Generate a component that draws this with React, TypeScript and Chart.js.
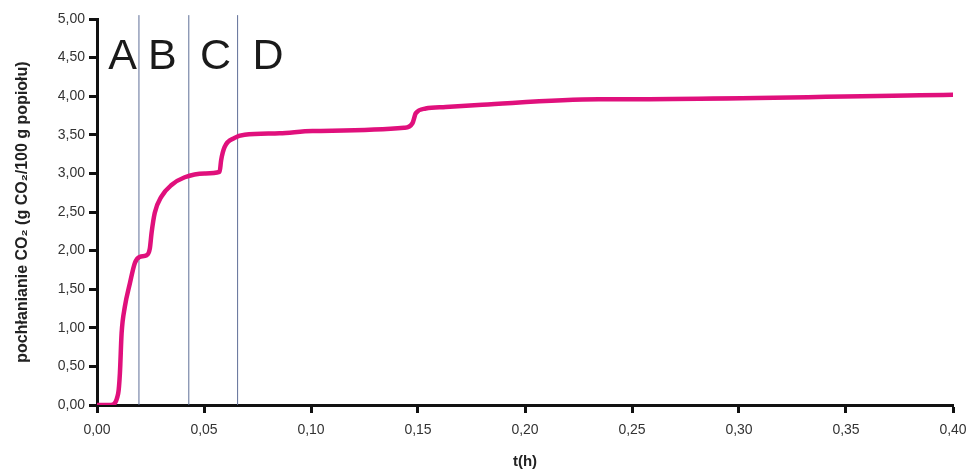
import React, { useEffect, useRef } from "react";
import { Chart, registerables } from "chart.js";

Chart.register(...registerables);

// Data: CO2 uptake curve (t in hours, uptake in g CO2 / 100 g ash)
const timeH = [
  0, 0.0065, 0.0099, 0.0107, 0.0115, 0.013, 0.0154, 0.0177, 0.02, 0.0232, 0.0247, 0.0255,
  0.027, 0.0301, 0.0348, 0.041, 0.0503, 0.0573, 0.058, 0.0596, 0.0643, 0.069, 0.0853,
  0.1007, 0.1435, 0.1474, 0.149, 0.1536, 0.163, 0.18, 0.2344, 0.2437, 0.402,
];
const uptake = [
  0, 0, 0.15, 0.41, 0.93, 1.27, 1.58, 1.84, 1.92, 1.94, 2.03, 2.23,
  2.49, 2.7, 2.85, 2.95, 3.0, 3.02, 3.17, 3.34, 3.46, 3.5, 3.52,
  3.55, 3.59, 3.65, 3.78, 3.84, 3.86, 3.89, 3.96, 3.96, 4.02,
];

// Phase boundaries (vertical lines) and phase labels
const phaseBoundaries = [0.0196, 0.0429, 0.0657];
const phaseLabels = ["A", "B", "C", "D"];
const phaseLabelX = [0.0119, 0.0305, 0.0554, 0.0799];
const phaseLabelY = 4.5;

const xTicksMin = 0;
const xTicksMax = 0.4;
const yTicksMin = 0;
const yTicksMax = 5;

const fmt = (v: number) => v.toFixed(2).replace(".", ",");
const FONT = "'Liberation Sans', Arial, sans-serif";

export default function App() {
  const ref = useRef<HTMLCanvasElement | null>(null);

  useEffect(() => {
    if (!ref.current) return;
    const lettersPlugin = {
      id: "phaseLetters",
      afterDatasetsDraw(chart: any) {
        const { ctx, scales } = chart;
        ctx.save();
        ctx.fillStyle = "#1a1a1a";
        ctx.font = "43px " + FONT;
        ctx.textAlign = "center";
        ctx.textBaseline = "middle";
        phaseLabels.forEach((l, i) => {
          ctx.fillText(l, scales.x.getPixelForValue(phaseLabelX[i]), scales.y.getPixelForValue(phaseLabelY));
        });
        ctx.restore();
      },
    };

    const lineDatasets = phaseBoundaries.map((b) => ({
      label: "boundary",
      data: [
        { x: b, y: 0 },
        { x: b, y: 5.05 },
      ],
      borderColor: "#5f6f98",
      borderWidth: 1,
      pointRadius: 0,
      clip: false as any,
      order: 2,
    }));

    const chart = new Chart(ref.current, {
      type: "line",
      data: {
        datasets: [
          {
            label: "CO2",
            data: timeH.map((t, i) => ({ x: t, y: uptake[i] })),
            borderColor: "#e0107c",
            borderWidth: 4.5,
            pointRadius: 0,
            cubicInterpolationMode: "monotone",
            order: 1,
          } as any,
          ...lineDatasets,
        ],
      },
      options: {
        animation: false,
        responsive: false,
        maintainAspectRatio: false,
        layout: { padding: { top: 19, right: 17, left: 13, bottom: 0 } },
        plugins: {
          legend: { display: false },
          tooltip: { enabled: false },
        },
        scales: {
          x: {
            type: "linear",
            min: xTicksMin,
            max: xTicksMax,
            border: { color: "#111", width: 3 },
            grid: { drawOnChartArea: false, drawTicks: true, tickLength: 8, tickWidth: 3, tickColor: "#111" } as any,
            ticks: {
              stepSize: 0.05,
              color: "#333",
              padding: 9,
              maxRotation: 0,
              font: { family: FONT, size: 14 },
              callback: (v: any) => fmt(Number(v)),
            },
            title: {
              display: true,
              text: "t(h)",
              color: "#222",
              padding: { top: 10, bottom: 0 },
              font: { family: FONT, size: 15, weight: "bold" },
            },
            afterFit: (s: any) => {
              s.height = 66;
              s.paddingLeft = 0;
              s.paddingRight = 0;
            },
          },
          y: {
            type: "linear",
            min: yTicksMin,
            max: yTicksMax,
            border: { color: "#111", width: 3 },
            grid: { drawOnChartArea: false, drawTicks: true, tickLength: 8, tickWidth: 3, tickColor: "#111" } as any,
            ticks: {
              stepSize: 0.5,
              color: "#333",
              padding: 4,
              font: { family: FONT, size: 14 },
              callback: (v: any) => fmt(Number(v)),
            },
            title: {
              display: true,
              text: "pochłanianie CO₂ (g CO₂/100 g popiołu)",
              color: "#222",
              padding: { top: 0, bottom: 8 },
              font: { family: FONT, size: 16, weight: "bold" },
            },
            afterFit: (s: any) => {
              s.width = 84;
              s.paddingTop = 0;
              s.paddingBottom = 0;
            },
          },
        },
      },
      plugins: [lettersPlugin],
    });
    return () => chart.destroy();
  }, []);

  return (
    <div style={{ position: "fixed", left: 0, top: 0, width: 970, height: 471, background: "#fff" }}>
      <canvas ref={ref} width={970} height={471} style={{ display: "block" }} />
    </div>
  );
}
